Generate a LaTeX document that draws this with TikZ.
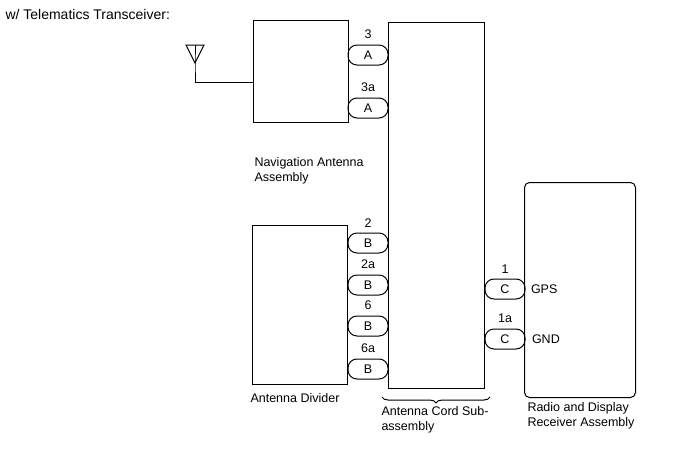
\documentclass[tikz,border=0pt]{standalone}
\usepackage{fontspec}
\setmainfont{Liberation Sans}
\usetikzlibrary{positioning,decorations.pathreplacing}
\begin{document}
\begin{tikzpicture}[x=1pt,y=-1pt,line width=1pt,
    every node/.style={font=\fontsize{12.5}{15}\selectfont,inner sep=0pt},
    box/.style={draw,minimum width=#1,anchor=north west},
    pin/.style={draw,rounded corners=9pt,minimum width=40pt,minimum height=20pt},
    num/.style={above=5pt of #1},
    lbl/.style={align=left,anchor=north west}]
  \useasboundingbox (0,0) rectangle (688,463);
  \node[anchor=north west,font=\fontsize{14}{16}\selectfont] (title) at (5,9) {w/ Telematics Transceiver:};
  % boxes
  \node[box=95pt,minimum height=102pt] (nav) at (253,20) {};
  \node[box=96pt,minimum height=366pt] (cord) at (388,22) {};
  \node[box=95pt,minimum height=159pt] (div) at (252,225) {};
  \node[box=111pt,minimum height=215pt,rounded corners=5pt] (radio) at (524,182) {};
  % connectors
  \node[pin] (a1) at (368,55) {A};
  \node[pin] (a2) at (368,108) {A};
  \node[pin] (b1) at (368,243) {B};
  \node[pin] (b2) at (368,285) {B};
  \node[pin] (b3) at (368,326) {B};
  \node[pin] (b4) at (368,369) {B};
  \node[pin] (c1) at (505,289) {C};
  \node[pin] (c2) at (505,339) {C};
  \foreach \p/\t in {a1/3,a2/3a,b1/2,b2/2a,b3/6,b4/6a,c1/1,c2/1a}
    \node[num=\p] {\t};
  \node[right=5pt of c1] (gps) {GPS};
  \node[right=6pt of c2] (gnd) {GND};
  % antenna
  \coordinate (tip) at (195,63);
  \draw (186,45) -- (204,45) -- (tip) -- cycle;
  \draw (195,45) -- (tip) -- (195,82) -- (nav.west |- 0,82);
  % labels
  \node[lbl] (navl) at (254,157) {Navigation Antenna\\Assembly};
  \node[lbl] (divl) at (250,393) {Antenna Divider};
  \draw[decorate,decoration={brace,amplitude=6pt}]
    (490,397) -- (382,397);
  \node[lbl] (cordl) at (381,406) {Antenna Cord Sub-\\assembly};
  \node[lbl] (radiol) at (527,402) {Radio and Display\\Receiver Assembly};
\end{tikzpicture}
\end{document}
